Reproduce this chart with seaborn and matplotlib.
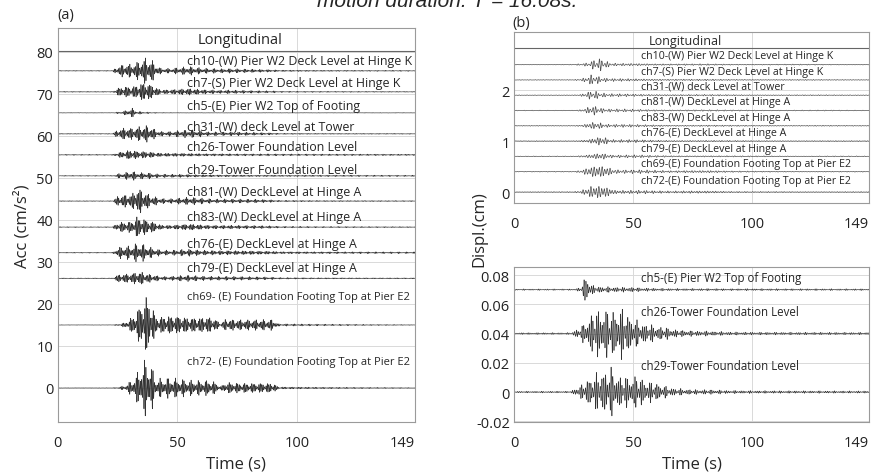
import numpy as np
import pandas as pd
import matplotlib
matplotlib.use("Agg")
import matplotlib.pyplot as plt
import seaborn as sns

# ---------------- data ----------------
T_END = 149
X_TICKS = [0, 50, 100, 149]

# (a) acceleration records
ACC_CHANNELS = ["ch10", "ch7", "ch5", "ch31", "ch26", "ch29", "ch81", "ch83",
                "ch76", "ch79", "ch69", "ch72"]
ACC_LABELS = ["ch10-(W) Pier W2 Deck Level at Hinge K",
              "ch7-(S) Pier W2 Deck Level at Hinge K",
              "ch5-(E) Pier W2 Top of Footing",
              "ch31-(W) deck Level at Tower",
              "ch26-Tower Foundation Level",
              "ch29-Tower Foundation Level",
              "ch81-(W) DeckLevel at Hinge A",
              "ch83-(W) DeckLevel at Hinge A",
              "ch76-(E) DeckLevel at Hinge A",
              "ch79-(E) DeckLevel at Hinge A",
              "ch69- (E) Foundation Footing Top at Pier E2",
              "ch72- (E) Foundation Footing Top at Pier E2"]
ACC_OFFSETS = [75.5, 70.5, 65.5, 60.5, 55.5, 50.5, 44.5, 38.3, 32.2, 26.1, 15.0, 0.0]
ACC_LABEL_Y = [77.9, 72.7, 67.2, 62.2, 57.5, 52.0, 46.8, 40.8, 34.4, 28.6, 21.7, 6.2]
ACC_LABEL_SIZE = [8.9, 8.9, 8.9, 8.9, 8.9, 8.9, 8.9, 8.9, 8.9, 8.9, 8.0, 8.0]
# envelope knots (s) and peak amplitudes (cm/s^2) per channel
ACC_KNOT_T = [0, 23, 25, 28, 31, 33, 35, 37, 39, 41, 43, 47, 51, 55, 59, 63, 66, 68, 70, 76, 83, 90, 92, 110, 149]
acc_ch10 = [0.1, 0.1, 1.2, 1.8, 1.7, 2.2, 3.0, 3.4, 3.0, 1.6, 0.7, 0.6, 0.9, 1.1, 0.8, 0.6, 0.6, 0.5, 0.6, 0.5, 0.4, 0.3, 0.2, 0.15, 0.12]
acc_ch7 = [0.1, 0.1, 1.0, 1.5, 1.4, 1.8, 2.4, 2.5, 2.0, 1.2, 0.6, 0.6, 0.8, 0.9, 0.7, 0.5, 0.5, 0.4, 0.5, 0.4, 0.3, 0.25, 0.15, 0.12, 0.1]
acc_ch5 = [0.05, 0.05, 0.2, 0.5, 1.2, 0.4, 0.3, 0.2, 0.15, 0.1, 0.08, 0.06, 0.05, 0.05, 0.05, 0.05, 0.05, 0.05, 0.05, 0.05, 0.05, 0.05, 0.05, 0.05, 0.05]
acc_ch31 = [0.1, 0.1, 1.1, 1.6, 1.5, 1.8, 2.0, 2.2, 1.8, 1.0, 0.6, 0.6, 0.9, 1.0, 0.8, 0.5, 0.5, 0.4, 0.5, 0.45, 0.35, 0.25, 0.15, 0.12, 0.1]
acc_ch26 = [0.12, 0.12, 0.6, 1.0, 1.4, 1.0, 1.0, 0.9, 0.8, 0.6, 0.5, 0.45, 0.45, 0.4, 0.35, 0.3, 0.3, 0.3, 0.3, 0.25, 0.25, 0.25, 0.22, 0.2, 0.18]
acc_ch29 = [0.1, 0.1, 0.5, 0.8, 1.2, 0.9, 0.8, 0.8, 0.7, 0.5, 0.45, 0.4, 0.4, 0.35, 0.3, 0.3, 0.25, 0.25, 0.25, 0.22, 0.2, 0.2, 0.18, 0.18, 0.15]
acc_ch81 = [0.1, 0.1, 1.3, 1.7, 1.8, 3.6, 3.0, 2.2, 1.3, 1.1, 0.7, 0.6, 0.8, 1.0, 0.8, 0.6, 0.5, 0.5, 0.5, 0.5, 0.45, 0.3, 0.2, 0.15, 0.12]
acc_ch83 = [0.1, 0.1, 1.2, 1.4, 1.5, 2.8, 2.5, 2.0, 1.6, 1.2, 0.6, 0.5, 0.7, 0.9, 0.7, 0.5, 0.5, 0.45, 0.5, 0.45, 0.4, 0.3, 0.2, 0.15, 0.12]
acc_ch76 = [0.1, 0.1, 1.3, 1.7, 1.7, 2.4, 2.3, 1.8, 1.3, 1.0, 0.7, 0.6, 0.8, 0.9, 0.7, 0.6, 0.6, 0.55, 0.6, 0.55, 0.5, 0.4, 0.3, 0.25, 0.2]
acc_ch79 = [0.1, 0.1, 1.0, 1.2, 1.3, 1.8, 1.7, 1.3, 1.0, 0.8, 0.5, 0.5, 0.7, 0.8, 0.6, 0.5, 0.5, 0.45, 0.5, 0.45, 0.4, 0.3, 0.2, 0.15, 0.12]
acc_ch69 = [0.05, 0.05, 0.2, 0.6, 2.0, 3.5, 6.0, 7.6, 6.0, 2.2, 2.2, 2.5, 2.4, 2.0, 2.0, 2.2, 1.5, 0.4, 1.6, 1.4, 1.4, 1.4, 0.3, 0.2, 0.08]
acc_ch72 = [0.05, 0.05, 0.2, 0.6, 2.0, 3.5, 6.0, 7.3, 6.0, 2.2, 2.4, 2.6, 2.3, 2.0, 1.9, 2.0, 1.5, 0.4, 1.5, 1.3, 1.3, 1.3, 0.3, 0.2, 0.08]
ACC_ENV = [acc_ch10, acc_ch7, acc_ch5, acc_ch31, acc_ch26, acc_ch29, acc_ch81,
           acc_ch83, acc_ch76, acc_ch79, acc_ch69, acc_ch72]

# (b) displacement records, upper panel
DISP_CHANNELS = ["ch10", "ch7", "ch31", "ch81", "ch83", "ch76", "ch79", "ch69", "ch72"]
DISP_LABELS = ["ch10-(W) Pier W2 Deck Level at Hinge K",
               "ch7-(S) Pier W2 Deck Level at Hinge K",
               "ch31-(W) deck Level at Tower",
               "ch81-(W) DeckLevel at Hinge A",
               "ch83-(W) DeckLevel at Hinge A",
               "ch76-(E) DeckLevel at Hinge A",
               "ch79-(E) DeckLevel at Hinge A",
               "ch69-(E) Foundation Footing Top at Pier E2",
               "ch72-(E) Foundation Footing Top at Pier E2"]
DISP_OFFSETS = [2.5, 2.2, 1.9, 1.6, 1.3, 1.0, 0.7, 0.4, 0.0]
DISP_LABEL_Y = [2.67, 2.36, 2.08, 1.77, 1.47, 1.16, 0.86, 0.57, 0.22]
DISP_KNOT_T = [0, 25, 28, 30, 32, 34, 36, 38, 40, 42, 46, 52, 58, 66, 74, 82, 90, 100, 149]
disp_ch10 = [0.006, 0.008, 0.02, 0.03, 0.06, 0.11, 0.13, 0.10, 0.04, 0.03, 0.03, 0.03, 0.02, 0.015, 0.015, 0.015, 0.012, 0.01, 0.008]
disp_ch7 = [0.006, 0.008, 0.02, 0.05, 0.10, 0.10, 0.06, 0.04, 0.03, 0.03, 0.03, 0.025, 0.02, 0.015, 0.015, 0.015, 0.012, 0.01, 0.008]
disp_ch31 = [0.006, 0.008, 0.02, 0.05, 0.09, 0.09, 0.05, 0.04, 0.03, 0.03, 0.03, 0.025, 0.02, 0.015, 0.015, 0.015, 0.012, 0.01, 0.008]
disp_ch81 = [0.006, 0.008, 0.02, 0.05, 0.10, 0.10, 0.06, 0.04, 0.03, 0.03, 0.03, 0.025, 0.02, 0.015, 0.015, 0.015, 0.012, 0.01, 0.008]
disp_ch83 = [0.006, 0.008, 0.02, 0.04, 0.08, 0.08, 0.07, 0.04, 0.03, 0.03, 0.03, 0.025, 0.02, 0.015, 0.015, 0.015, 0.012, 0.01, 0.008]
disp_ch76 = [0.006, 0.008, 0.02, 0.03, 0.05, 0.09, 0.10, 0.09, 0.04, 0.03, 0.03, 0.03, 0.02, 0.015, 0.015, 0.015, 0.012, 0.01, 0.008]
disp_ch79 = [0.006, 0.008, 0.02, 0.03, 0.05, 0.07, 0.08, 0.07, 0.04, 0.03, 0.03, 0.03, 0.02, 0.015, 0.015, 0.015, 0.012, 0.01, 0.008]
disp_ch69 = [0.006, 0.008, 0.03, 0.08, 0.13, 0.16, 0.16, 0.14, 0.10, 0.05, 0.04, 0.04, 0.03, 0.02, 0.03, 0.03, 0.015, 0.01, 0.008]
disp_ch72 = [0.006, 0.008, 0.03, 0.08, 0.14, 0.17, 0.17, 0.15, 0.11, 0.05, 0.04, 0.04, 0.03, 0.02, 0.03, 0.03, 0.015, 0.01, 0.008]
DISP_ENV = [disp_ch10, disp_ch7, disp_ch31, disp_ch81, disp_ch83, disp_ch76,
            disp_ch79, disp_ch69, disp_ch72]

# (b) displacement records, lower panel
LOW_CHANNELS = ["ch5", "ch26", "ch29"]
LOW_LABELS = ["ch5-(E) Pier W2 Top of Footing",
              "ch26-Tower Foundation Level",
              "ch29-Tower Foundation Level"]
LOW_OFFSETS = [0.07, 0.04, 0.0]
LOW_LABEL_Y = [0.078, 0.0549, 0.0183]
LOW_KNOT_T = [0, 24, 26, 28, 30, 33, 37, 41, 45, 49, 52, 56, 60, 64, 68, 75, 82, 90, 100, 149]
low_ch5 = [0.0005, 0.0005, 0.0008, 0.0015, 0.011, 0.003, 0.0022, 0.002, 0.0018, 0.0018, 0.0015, 0.0012, 0.001, 0.0009, 0.0008, 0.0008, 0.0008, 0.0007, 0.0007, 0.0006]
low_ch26 = [0.0006, 0.0006, 0.003, 0.0045, 0.009, 0.016, 0.019, 0.017, 0.019, 0.013, 0.009, 0.007, 0.0055, 0.0045, 0.0028, 0.002, 0.0018, 0.0012, 0.001, 0.0008]
low_ch29 = [0.0006, 0.0006, 0.0034, 0.0045, 0.009, 0.012, 0.016, 0.018, 0.011, 0.012, 0.012, 0.008, 0.0068, 0.004, 0.0027, 0.0018, 0.0018, 0.0012, 0.001, 0.0008]
LOW_ENV = [low_ch5, low_ch26, low_ch29]

# ---------------- helpers ----------------
def traces(channels, offsets, knot_t, envs, freq, dt):
    t = np.arange(0, T_END + dt / 2, dt)
    frames = []
    for k, (ch, off, env) in enumerate(zip(channels, offsets, envs)):
        a = np.interp(t, knot_t, env)
        c = 0.8 * np.sin(2 * np.pi * freq * t + 0.9 * k) + \
            0.2 * np.sin(2 * np.pi * freq * 1.37 * t + 2.1 * k)
        pk = 0.65 + 0.35 * np.sin(2 * np.pi * 0.31 * t + 1.7 * k)
        frames.append(pd.DataFrame({"t": t, "y": off + a * c * pk, "ch": ch}))
    return pd.concat(frames, ignore_index=True)


sns.set_theme(style="white")
plt.rcParams["font.family"] = ["Open Sans", "DejaVu Sans"]

TRACE_COLOR = "#333333"
GRID = "#d9d9d9"
SPINE = "#9a9a9a"

fig = plt.figure(figsize=(8.77, 4.77), dpi=100)
ax_a = fig.add_axes([0.0656, 0.1132, 0.4076, 0.8260])
ax_b1 = fig.add_axes([0.5861, 0.5723, 0.4048, 0.3585])
ax_b2 = fig.add_axes([0.5861, 0.1132, 0.4048, 0.3250])


def style(ax, ylim, yticks, ylabels=None):
    ax.set_xlim(0, T_END)
    ax.set_ylim(*ylim)
    ax.set_xticks(X_TICKS)
    ax.set_xticklabels([str(v) for v in X_TICKS])
    ax.get_xticklabels()[-1].set_ha("right")
    ax.set_yticks(yticks)
    if ylabels is not None:
        ax.set_yticklabels(ylabels)
    ax.grid(True, color=GRID, lw=0.7)
    ax.set_axisbelow(True)
    for s in ax.spines.values():
        s.set_color(SPINE)
        s.set_linewidth(0.8)
    ax.tick_params(axis="both", length=0, labelsize=10.5, colors="#222222")
    ax.tick_params(axis="x", pad=9)
    ax.tick_params(axis="y", pad=3)
    ax.set_xlabel("")
    ax.set_ylabel("")


# (a)
df_a = traces(ACC_CHANNELS, ACC_OFFSETS, ACC_KNOT_T, ACC_ENV, 1.7, 0.04)
sns.lineplot(data=df_a, x="t", y="y", units="ch", estimator=None, sort=False,
             color=TRACE_COLOR, lw=0.45, ax=ax_a, legend=False)
style(ax_a, (-8.1, 85.7), list(range(0, 81, 10)))
ax_a.axhline(80.3, color="#666666", lw=0.8)
ax_a.text(76, 82.9, "Longitudinal", ha="center", va="center", fontsize=10.5)
for lab, ly, fs in zip(ACC_LABELS, ACC_LABEL_Y, ACC_LABEL_SIZE):
    ax_a.text(54, ly, lab, ha="left", va="center", fontsize=fs)
ax_a.set_xlabel("Time (s)", fontsize=12, labelpad=4)
ax_a.set_ylabel("Acc (cm/s²)", fontsize=12, labelpad=4)

# (b) upper
df_b1 = traces(DISP_CHANNELS, DISP_OFFSETS, DISP_KNOT_T, DISP_ENV, 0.9, 0.05)
sns.lineplot(data=df_b1, x="t", y="y", units="ch", estimator=None, sort=False,
             color="#505050", lw=0.5, ax=ax_b1, legend=False)
style(ax_b1, (-0.215, 3.14), [0, 1, 2])
ax_b1.axhline(2.82, color="#666666", lw=0.8)
ax_b1.text(72, 2.97, "Longitudinal", ha="center", va="center", fontsize=9)
for lab, ly in zip(DISP_LABELS, DISP_LABEL_Y):
    ax_b1.text(53.5, ly, lab, ha="left", va="center", fontsize=7.7)

# (b) lower
df_b2 = traces(LOW_CHANNELS, LOW_OFFSETS, LOW_KNOT_T, LOW_ENV, 1.3, 0.04)
sns.lineplot(data=df_b2, x="t", y="y", units="ch", estimator=None, sort=False,
             color=TRACE_COLOR, lw=0.45, ax=ax_b2, legend=False)
style(ax_b2, (-0.0205, 0.0855), [-0.02, 0, 0.02, 0.04, 0.06, 0.08],
      ["-0.02", "0", "0.02", "0.04", "0.06", "0.08"])
for lab, ly in zip(LOW_LABELS, LOW_LABEL_Y):
    ax_b2.text(53.5, ly, lab, ha="left", va="center", fontsize=8.3)
ax_b2.set_xlabel("Time (s)", fontsize=12, labelpad=4)

fig.text(479 / 877, 1 - 229 / 477, "Displ.(cm)", rotation=90, ha="center",
         va="center", fontsize=12)
fig.text(57 / 877, 1 - 15 / 477, "(a)", ha="left", va="center", fontsize=10.5)
fig.text(512 / 877, 1 - 24 / 477, "(b)", ha="left", va="center", fontsize=10.5)
fig.text(447 / 877, 1 - 7 / 477, "motion duration: T = 16.08s.", ha="center",
         va="baseline", fontsize=15, style="italic",
         family=["Liberation Sans", "DejaVu Sans"])

fig.savefig("out.png", dpi=100)
